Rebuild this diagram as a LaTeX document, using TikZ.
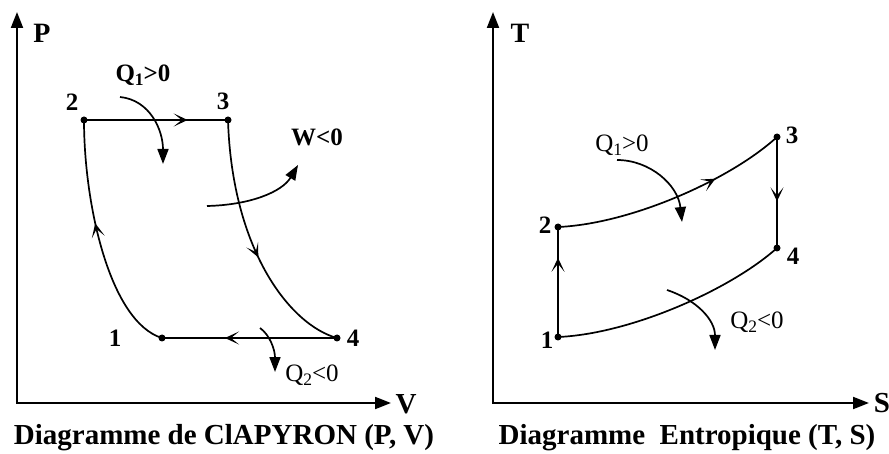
\documentclass[tikz,border=0pt]{standalone}
\usepackage{fontspec}
\setmainfont{Liberation Serif}
\usetikzlibrary{arrows.meta,decorations.markings}
\newcommand\lsub[1]{\raisebox{-0.4ex}{\scalebox{0.7}{#1}}}
\begin{document}
\begin{tikzpicture}[x=1pt,y=-1pt,
  axis/.style={line width=2pt,{Triangle[length=16pt,width=12pt]}-{Triangle[length=16pt,width=12pt]}},
  cyc/.style={line width=1.7pt},
  dot/.style={circle,fill,inner sep=0pt,minimum size=7pt},
  heat/.style={line width=1.7pt,-{Triangle[length=15pt,width=11pt]}},
  lab/.style={font=\bfseries\fontsize{25}{25}\selectfont,inner sep=0pt},
  qlab/.style={font=\fontsize{25}{25}\selectfont,inner sep=0pt},
  qblab/.style={font=\bfseries\fontsize{25}{25}\selectfont,inner sep=0pt},
  captext/.style={font=\bfseries\fontsize{29}{29}\selectfont,inner sep=0pt},
  midarrow/.style={postaction={decorate},decoration={markings,mark=at position #1 with {\arrow{Stealth[length=14pt,width=13pt,inset=8pt]}}}}]
\useasboundingbox (0,0) rectangle (889,454);
% ---------- left: Clapeyron ----------
\coordinate (O1) at (17,403);
\coordinate (Ptip) at (17,12);
\coordinate (Vtip) at (391,403);
\draw[axis] (Ptip) -- (O1) -- (Vtip);
\node[lab,font=\bfseries\fontsize{28}{28}\selectfont] (Plab) at (42,33) {P};
\node[lab,font=\bfseries\fontsize{29}{29}\selectfont] (Vlab) at (406,404) {V};
\node[dot] (a1) at (162,338) {};
\node[dot] (a2) at (84,120) {};
\node[dot] (a3) at (228,120) {};
\node[dot] (a4) at (337,338) {};
\node[lab] (l1) at (115,338) {1};
\node[lab] (l2) at (72,102) {2};
\node[lab] (l3) at (223,101) {3};
\node[lab] (l4) at (353,338) {4};
\draw[cyc,midarrow=0.72] (a2.center) -- (a3.center);
\draw[cyc,midarrow=0.64] (a4.center) -- (a1.center);
\draw[cyc,midarrow=0.57] (a1.center) .. controls (110,322) and (84,205) .. (a2.center);
\draw[cyc,midarrow=0.55] (a3.center) .. controls (232,250) and (290,325) .. (a4.center);
\node[qblab] (q1a) at (143,75) {Q\lsub{1}>0};
\coordinate (q1as) at (120,97);
\coordinate (q1ae) at (163,164);
\draw[heat] (q1as) .. controls (150,100) and (163,130) .. (q1ae);
\node[qblab] (wa) at (317,137) {W<0};
\coordinate (was) at (207,206);
\coordinate (wae) at (298,165);
\draw[heat] (was) .. controls (250,205) and (282,192) .. (wae);
\node[qlab] (q2a) at (312,375) {Q\lsub{2}<0};
\coordinate (q2as) at (260,328);
\coordinate (q2ae) at (275,372);
\draw[heat] (q2as) .. controls (270,335) and (275,350) .. (q2ae);
\node[captext] (capa) at (224,438) {Diagramme de ClAPYRON (P, V)};
% ---------- right: entropique ----------
\coordinate (O2) at (493,403);
\coordinate (Ttip) at (493,12);
\coordinate (Stip) at (869,403);
\draw[axis] (Ttip) -- (O2) -- (Stip);
\node[lab,font=\bfseries\fontsize{28}{28}\selectfont] (Tlab) at (520,33) {T};
\node[lab,font=\bfseries\fontsize{29}{29}\selectfont] (Slab) at (882,403) {S};
\node[dot] (b1) at (558,337) {};
\node[dot] (b2) at (558,227) {};
\node[dot] (b3) at (777,137) {};
\node[dot] (b4) at (777,248) {};
\node[lab] (m1) at (547,340) {1};
\node[lab] (m2) at (545,225) {2};
\node[lab] (m3) at (792,135) {3};
\node[lab] (m4) at (793,256) {4};
\draw[cyc,midarrow=0.72] (b1.center) -- (b2.center);
\draw[cyc,midarrow=0.58] (b3.center) -- (b4.center);
\draw[cyc,midarrow=0.69] (b2.center) .. controls (630,224) and (730,180) .. (b3.center);
\draw[cyc] (b1.center) .. controls (630,334) and (730,290) .. (b4.center);
\node[qlab] (q1b) at (622,145) {Q\lsub{1}>0};
\coordinate (q1bs) at (617,160);
\coordinate (q1be) at (682,222);
\draw[heat] (q1bs) .. controls (650,160) and (678,185) .. (q1be);
\node[qlab] (q2b) at (757,322) {Q\lsub{2}<0};
\coordinate (q2bs) at (667,290);
\coordinate (q2be) at (715,350);
\draw[heat] (q2bs) .. controls (697,300) and (715,320) .. (q2be);
\node[captext] (capb) at (687,438) {Diagramme\ \ Entropique (T, S)};
\end{tikzpicture}
\end{document}
